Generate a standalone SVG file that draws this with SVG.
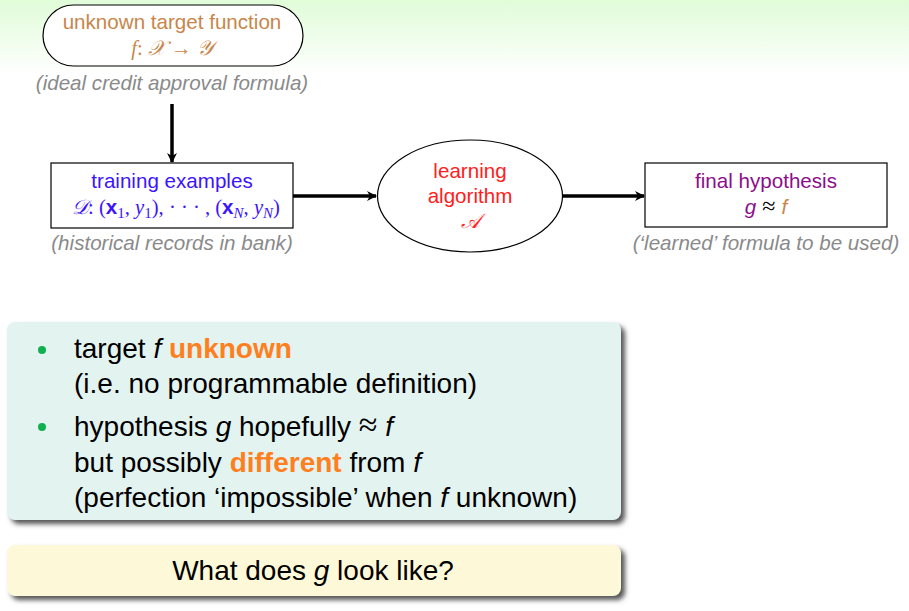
<svg xmlns="http://www.w3.org/2000/svg" width="909" height="611" viewBox="0 0 909 611">
<defs>
<linearGradient id="bg" x1="0" y1="0" x2="0" y2="1">
<stop offset="0" stop-color="#e0fcd8"/>
<stop offset="1" stop-color="#ffffff"/>
</linearGradient>
<marker id="ah" markerWidth="10" markerHeight="10" refX="9" refY="5" orient="auto" markerUnits="userSpaceOnUse" viewBox="0 0 10 10">
<path d="M0,0 L10,5 L0,10 L3,5 Z" fill="#000"/>
</marker>
<filter id="sh" x="-5%" y="-10%" width="115%" height="130%">
<feGaussianBlur stdDeviation="2.5"/>
</filter>
</defs>
<style>
.t{font-family:"Liberation Sans",Arial,sans-serif}
.m{font-family:"Liberation Serif","DejaVu Serif",serif}
.n{font-size:20.6px;text-anchor:middle}
.cap{font-size:20.6px;font-style:italic;fill:#8a8a8a;text-anchor:middle}
.node{fill:#fff;stroke:#000;stroke-width:1.2}
.conn{stroke:#000;stroke-width:3.5;fill:none;marker-end:url(#ah)}
.b{font-size:28px;fill:#000}
.or{fill:#ff7f1e;font-weight:bold}
</style>
<rect x="0" y="0" width="909" height="75" fill="url(#bg)"/>

<g id="target">
<rect class="node" x="43" y="5" width="260" height="61" rx="30.5" ry="30.5"/>
<text class="t n" x="172" y="29" fill="#c8864a">unknown target function</text>
<text class="n" x="172" y="55" fill="#c8864a"><tspan class="m" font-style="italic">f</tspan><tspan class="m">: </tspan><tspan class="m" font-style="italic">𝒳</tspan><tspan class="m"> → </tspan><tspan class="m" font-style="italic">𝒴</tspan></text>
<text class="t cap" x="172" y="90">(ideal credit approval formula)</text>
</g>

<g id="training">
<rect class="node" x="51" y="163" width="242" height="65"/>
<text class="t n" x="172" y="188" fill="#3c14ff">training examples</text>
<text class="n m" x="176" y="214" fill="#3c14ff" font-size="23"><tspan font-style="italic">𝒟</tspan>: (<tspan class="t" font-weight="bold">x</tspan><tspan font-size="15" dy="4">1</tspan><tspan dy="-4">, </tspan><tspan font-style="italic">y</tspan><tspan font-size="15" dy="4">1</tspan><tspan dy="-4">), · · · , (</tspan><tspan class="t" font-weight="bold">x</tspan><tspan font-size="15" dy="4" font-style="italic">N</tspan><tspan dy="-4">, </tspan><tspan font-style="italic">y</tspan><tspan font-size="15" dy="4" font-style="italic">N</tspan><tspan dy="-4">)</tspan></text>
<text class="t cap" x="172" y="250">(historical records in bank)</text>
</g>

<g id="algorithm">
<ellipse class="node" cx="470" cy="196" rx="92.5" ry="56"/>
<text class="t n" x="470" y="178" fill="#ff2020">learning</text>
<text class="t n" x="470" y="203" fill="#ff2020">algorithm</text>
<text class="m n" x="470" y="228" fill="#ff2020" font-style="italic">𝒜</text>
</g>

<g id="hypothesis">
<rect class="node" x="645" y="163" width="242" height="64"/>
<text class="t n" x="766" y="188" fill="#8b0e8b">final hypothesis</text>
<text class="n" x="766" y="214"><tspan class="t" font-style="italic" fill="#8b0e8b">g</tspan><tspan class="m" fill="#000" font-size="24"> ≈ </tspan><tspan class="t" font-style="italic" fill="#c8864a">f</tspan></text>
<text class="t cap" x="766" y="250">(‘learned’ formula to be used)</text>
</g>

<g id="connectors">
<line class="conn" x1="172" y1="104" x2="172" y2="162"/>
<line class="conn" x1="293" y1="196" x2="376" y2="196"/>
<line class="conn" x1="562" y1="196" x2="644" y2="196"/>
</g>

<g id="bullets">
<rect x="11" y="326" width="614" height="198" rx="8" fill="#555" filter="url(#sh)"/>
<rect x="7" y="322" width="614" height="198" rx="8" fill="#e3f3f0"/>
<circle cx="42" cy="350" r="4" fill="#10b050"/>
<circle cx="42" cy="427" r="4" fill="#10b050"/>
<text class="t b" x="74" y="358">target <tspan font-style="italic">f</tspan> <tspan class="or">unknown</tspan></text>
<text class="t b" x="74" y="393">(i.e. no programmable definition)</text>
<text class="t b" x="74" y="436">hypothesis <tspan font-style="italic">g</tspan> hopefully <tspan class="m" font-size="34">≈</tspan> <tspan font-style="italic">f</tspan></text>
<text class="t b" x="74" y="472">but possibly <tspan class="or">different</tspan> from <tspan font-style="italic">f</tspan></text>
<text class="t b" x="74" y="507">(perfection ‘impossible’ when <tspan font-style="italic">f</tspan> unknown)</text>
</g>

<g id="question">
<rect x="11" y="549" width="614" height="51" rx="8" fill="#555" filter="url(#sh)"/>
<rect x="7" y="545" width="614" height="51" rx="8" fill="#fdf9d8"/>
<text class="t b" x="313" y="580" text-anchor="middle">What does <tspan font-style="italic">g</tspan> look like?</text>
</g>
</svg>
